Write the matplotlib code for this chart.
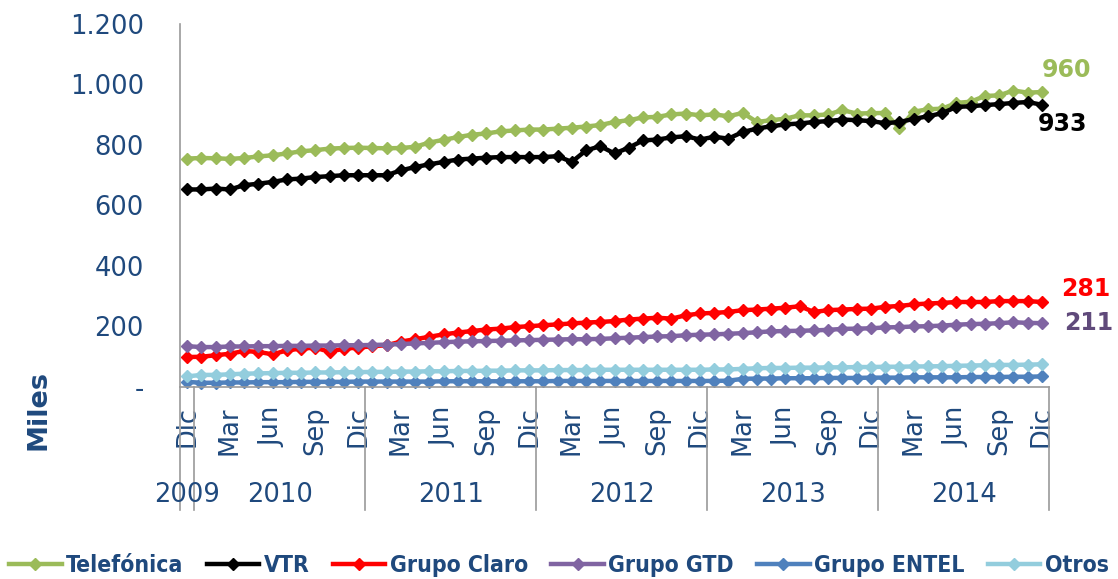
import matplotlib
matplotlib.use("Agg")
import matplotlib.pyplot as plt
import matplotlib.transforms as mtransforms

# monthly data, Dic 2009 .. Dic 2014 (thousands)
meses = ["Dic", "Mar", "Jun", "Sep"]
anios = ["2009", "2010", "2011", "2012", "2013", "2014"]

telefonica = [755, 757, 756, 754, 757, 762, 766, 772, 779, 783, 788, 790, 791, 790, 789, 790,
              794, 808, 817, 826, 834, 838, 845, 848, 851, 851, 854, 857, 861, 866, 876,
              882, 891, 893, 901, 904, 898, 901, 895, 906, 876, 882, 887, 898, 898, 901,
              915, 904, 905, 906, 855, 910, 918, 920, 939, 943, 962, 964, 980, 973, 975]
vtr = [653, 653, 656, 653, 667, 672, 678, 686, 689, 694, 697, 700, 700, 700, 700, 716,
       727, 736, 744, 752, 755, 758, 760, 760, 760, 760, 763, 744, 782, 796, 772,
       791, 815, 818, 825, 829, 818, 827, 821, 843, 854, 862, 868, 871, 876, 879,
       884, 882, 879, 872, 876, 886, 895, 905, 926, 928, 932, 935, 939, 942, 933]
claro = [99, 100, 105, 110, 119, 116, 108, 121, 127, 130, 116, 127, 130, 135, 138, 150,
         158, 166, 174, 180, 185, 190, 193, 198, 201, 204, 207, 210, 213, 215, 218,
         223, 226, 229, 226, 237, 243, 245, 248, 254, 256, 259, 262, 267, 248, 254,
         256, 258, 259, 265, 268, 273, 276, 278, 281, 281, 281, 284, 284, 284, 281]
gtd = [135, 132, 132, 134, 134, 135, 135, 136, 136, 137, 137, 138, 138, 139, 140, 142,
       144, 146, 148, 150, 151, 152, 153, 154, 155, 156, 157, 158, 158, 159, 161,
       163, 165, 167, 168, 171, 173, 174, 176, 178, 181, 184, 185, 186, 187, 189,
       192, 193, 194, 197, 198, 200, 201, 203, 206, 208, 209, 211, 214, 212, 211]
entel = [17, 14, 14, 15, 15, 16, 16, 16, 17, 17, 17, 17, 18, 18, 18, 18,
         18, 18, 19, 19, 19, 19, 19, 19, 19, 19, 20, 20, 20, 20, 20,
         20, 20, 20, 20, 20, 20, 20, 21, 27, 28, 28, 29, 29, 29, 30,
         30, 30, 31, 31, 31, 32, 32, 32, 32, 33, 33, 33, 34, 34, 35]
otros = [35, 40, 40, 42, 44, 45, 46, 47, 47, 48, 48, 49, 49, 50, 50, 51,
         51, 52, 52, 53, 53, 54, 54, 55, 55, 55, 56, 56, 56, 57, 57,
         57, 57, 57, 57, 57, 57, 58, 58, 60, 62, 63, 63, 64, 64, 65,
         65, 66, 66, 67, 67, 68, 68, 69, 70, 71, 72, 73, 73, 74, 75]

series = [
    ("Telefónica", telefonica, "#9BBB59"),
    ("VTR", vtr, "#000000"),
    ("Grupo Claro", claro, "#FF0000"),
    ("Grupo GTD", gtd, "#8064A2"),
    ("Grupo ENTEL", entel, "#4F81BD"),
    ("Otros", otros, "#93CDDD"),
]

# end labels: series name, text, colour, offset in points
etiquetas = [
    ("Telefónica", "960", "#9BBB59", (0, 16)),
    ("VTR", "933", "#000000", (-3, -14)),
    ("Grupo Claro", "281", "#FF0000", (14, 9)),
    ("Grupo GTD", "211", "#604A7B", (16, 0)),
]

navy = "#1F497D"
grey = "#9A9A9A"

fig = plt.figure(figsize=(11.18, 5.79), dpi=100)
ax = fig.add_axes([0.161, 0.3316, 0.7773, 0.627])

n = len(telefonica)
x = list(range(n))
for nombre, vals, col in series:
    ax.plot(x, vals, color=col, lw=3.2, marker="D", ms=6.5, mec=col, mfc=col,
            label=nombre, clip_on=False)

ultimo = {nombre: vals[-1] for nombre, vals, col in series}
for nombre, txt, col, off in etiquetas:
    ax.annotate(txt, xy=(n - 1, ultimo[nombre]), xytext=off, textcoords="offset points",
                ha="left", va="center", fontsize=17, fontweight="bold", color=col)

ax.set_xlim(-0.5, n - 0.5)
ax.set_ylim(0, 1200)

yt = [0, 200, 400, 600, 800, 1000, 1200]
ax.set_yticks(yt)
ax.set_yticklabels(["-" if v == 0 else f"{v:,}".replace(",", ".") for v in yt])

xt = list(range(0, n, 3))
ax.set_xticks(xt)
ax.set_xticklabels([meses[(i // 3) % 4] for i in xt], rotation=90)

ax.tick_params(axis="y", length=0, pad=26, labelsize=18.5, labelcolor=navy)
ax.tick_params(axis="x", length=0, pad=14, labelsize=18.5, labelcolor=navy)

for s in ("top", "right"):
    ax.spines[s].set_visible(False)
for s in ("left", "bottom"):
    ax.spines[s].set_color(grey)
    ax.spines[s].set_linewidth(1.2)

# category separators and year labels below the axis
trans = mtransforms.blended_transform_factory(ax.transData, ax.transAxes)
for b in [-0.5, 0.5, 12.5, 24.5, 36.5, 48.5, 60.5]:
    ax.plot([b, b], [0, -0.34], color=grey, lw=1.2, transform=trans, clip_on=False)
centros = [0, 6.5, 18.5, 30.5, 42.5, 54.5]
for c, a in zip(centros, anios):
    ax.text(c, -0.298, a, transform=trans, ha="center", va="center",
            fontsize=18.5, color=navy)

fig.text(38 / 1118, 1 - 410 / 579, "Miles", rotation=90, ha="center", va="center",
         fontsize=19.5, fontweight="bold", color=navy)

leg = fig.legend(loc="center", bbox_to_anchor=(0.5, 0.024), ncol=6, frameon=False,
                 handlelength=2.3, handletextpad=0.2, columnspacing=1.0,
                 prop={"family": "DejaVu Sans", "stretch": "condensed",
                       "weight": "bold", "size": 16.5})
for t in leg.get_texts():
    t.set_color(navy)

fig.savefig("out.png", dpi=100)
